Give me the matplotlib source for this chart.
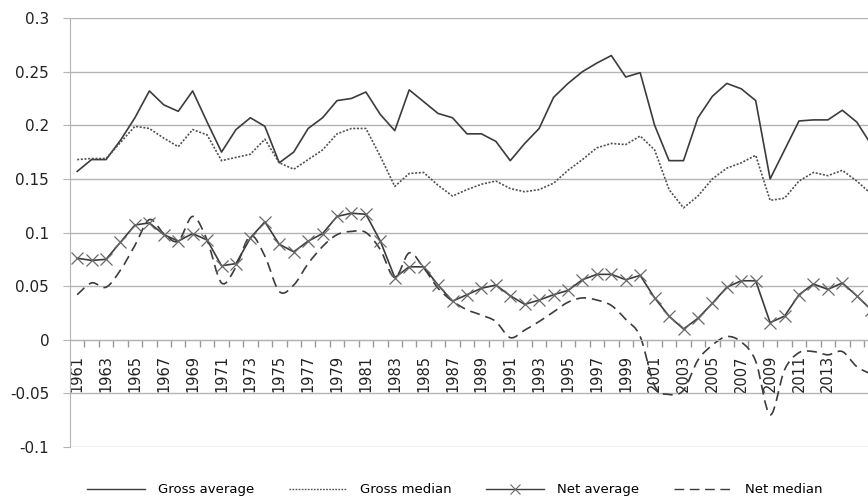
import numpy as np
import matplotlib
matplotlib.use("Agg")
import matplotlib.pyplot as plt
from matplotlib.lines import Line2D
from matplotlib.path import Path
from matplotlib.patches import PathPatch

years = list(range(1961, 2017))

gross_avg = [0.157, 0.168, 0.168, 0.186, 0.207, 0.232, 0.219, 0.213, 0.232, 0.203,
             0.175, 0.196, 0.207, 0.199, 0.165, 0.175, 0.197, 0.207, 0.223, 0.225,
             0.231, 0.210, 0.195, 0.233, 0.222, 0.211, 0.207, 0.192, 0.192, 0.185,
             0.167, 0.183, 0.197, 0.226, 0.239, 0.250, 0.258, 0.265, 0.245, 0.249,
             0.200, 0.167, 0.167, 0.207, 0.227, 0.239, 0.234, 0.223, 0.150, 0.177,
             0.204, 0.205, 0.205, 0.214, 0.203, 0.182]

gross_med = [0.168, 0.169, 0.169, 0.184, 0.199, 0.197, 0.188, 0.180, 0.196, 0.191,
             0.167, 0.170, 0.173, 0.187, 0.165, 0.159, 0.168, 0.177, 0.192, 0.197,
             0.197, 0.171, 0.143, 0.155, 0.156, 0.144, 0.134, 0.140, 0.145, 0.148,
             0.141, 0.138, 0.140, 0.146, 0.158, 0.168, 0.179, 0.183, 0.182, 0.190,
             0.177, 0.140, 0.123, 0.134, 0.150, 0.160, 0.165, 0.172, 0.130, 0.132,
             0.148, 0.156, 0.153, 0.158, 0.148, 0.136]

net_avg = [0.076, 0.074, 0.075, 0.091, 0.107, 0.109, 0.098, 0.092, 0.099, 0.093,
           0.069, 0.071, 0.095, 0.110, 0.089, 0.082, 0.092, 0.099, 0.115, 0.118,
           0.117, 0.092, 0.058, 0.068, 0.068, 0.051, 0.036, 0.042, 0.048, 0.051,
           0.041, 0.033, 0.037, 0.042, 0.046, 0.056, 0.061, 0.061, 0.056, 0.060,
           0.039, 0.022, 0.010, 0.020, 0.034, 0.049, 0.055, 0.055, 0.016, 0.022,
           0.042, 0.052, 0.047, 0.053, 0.041, 0.028]

net_med = [0.042, 0.053, 0.049, 0.065, 0.088, 0.112, 0.099, 0.092, 0.115, 0.093,
           0.053, 0.068, 0.097, 0.078, 0.045, 0.051, 0.071, 0.087, 0.098, 0.101,
           0.100, 0.084, 0.058, 0.081, 0.067, 0.048, 0.036, 0.028, 0.023, 0.017,
           0.002, 0.009, 0.017, 0.026, 0.035, 0.039, 0.037, 0.032, 0.019, 0.003,
           -0.043, -0.051, -0.047, -0.019, -0.005, 0.003, -0.002, -0.020, -0.070, -0.028,
           -0.012, -0.011, -0.014, -0.011, -0.025, -0.032]

y_ticks = [-0.1, -0.05, 0, 0.05, 0.1, 0.15, 0.2, 0.25, 0.3]
y_labels = ['-0.1', '-0.05', '0', '0.05', '0.1', '0.15', '0.2', '0.25', '0.3']
names = ['Gross average', 'Gross median', 'Net average', 'Net median']

line_col = '#3c3c3c'
grid_col = '#b4b4b4'
dash = (0, (6, 3.5))

fig = plt.figure(figsize=(8.68, 5.03), dpi=100)
ax = fig.add_axes([0.0806, 0.1113, 0.9194, 0.8529])

# spines first: moving a spine resets the tick styling
for s in ['top', 'right']:
    ax.spines[s].set_visible(False)
ax.spines['bottom'].set_position(('data', 0))
ax.spines['bottom'].set_color(grid_col)
ax.spines['left'].set_color(grid_col)

ax.plot(years, gross_avg, color=line_col, lw=1.2)
ax.plot(years, gross_med, color='#505050', lw=1.2, linestyle=(0, (1.2, 1.0)))
ax.plot(years, net_avg, color=line_col, lw=1.2, marker='x', markersize=9,
        markeredgecolor='#6a6a6a', markeredgewidth=0.9)

# net median is drawn as a smoothed (bezier) curve through the points
pts = np.column_stack([years, net_med]).astype(float)
n = len(pts)
verts = [pts[0]]
codes = [Path.MOVETO]
for i in range(n - 1):
    p0 = pts[i - 1] if i > 0 else pts[i]
    p1 = pts[i]
    p2 = pts[i + 1]
    p3 = pts[i + 2] if i + 2 < n else pts[i + 1]
    verts += [p1 + (p2 - p0) / 6, p2 - (p3 - p1) / 6, p2]
    codes += [Path.CURVE4] * 3
ax.add_patch(PathPatch(Path(verts, codes), fill=False, edgecolor=line_col,
                       lw=1.2, linestyle=dash))

ax.set_xlim(1960.5, 2015.78)
ax.set_ylim(-0.1, 0.3)

ax.set_yticks(y_ticks)
ax.set_yticklabels(y_labels, fontsize=11, color='#222222')
ax.yaxis.grid(True, color=grid_col, lw=1)
ax.set_axisbelow(True)
ax.tick_params(axis='y', length=5, color=grid_col, pad=10)

odd_years = years[::2][:-1]
ax.set_xticks(odd_years)
ax.set_xticklabels([str(y) for y in odd_years], rotation=90, fontsize=10.5,
                   color='#222222', va='top')
ax.set_xticks([y + 0.5 for y in years[:-1]], minor=True)
ax.tick_params(axis='x', which='major', length=0, pad=11)
ax.tick_params(axis='x', which='minor', length=5, width=1, color='#999999')

handles = [
    Line2D([], [], color=line_col, lw=1.0),
    Line2D([], [], color='#505050', lw=1.0, linestyle=(0, (1.2, 1.0))),
    Line2D([], [], color=line_col, lw=1.0, marker='x', markersize=7,
           markeredgecolor='#6a6a6a', markeredgewidth=0.8),
    Line2D([], [], color=line_col, lw=1.0, linestyle=(0, (7, 4))),
]
fig.legend(handles, names, loc='center', bbox_to_anchor=(0.524, 0.026), ncol=4,
           frameon=False, handlelength=4.4, columnspacing=2.6, handletextpad=1.0,
           prop={'size': 9.5})

fig.savefig('out.png', dpi=100)
